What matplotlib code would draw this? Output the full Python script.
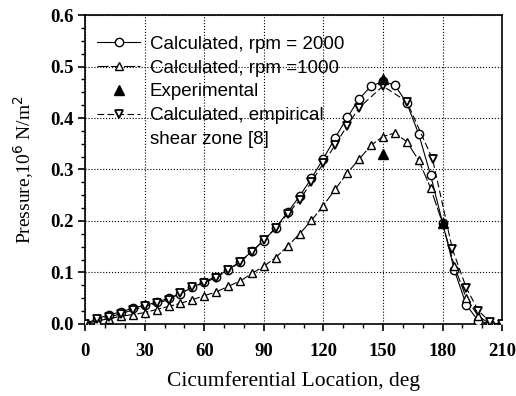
import numpy as np
import matplotlib.pyplot as plt
from matplotlib.ticker import MultipleLocator

# calculated, rpm = 2000
ang_2000 = np.arange(0, 211, 6)
p_2000 = [0.0, 0.01, 0.018, 0.023, 0.031, 0.036, 0.042, 0.05, 0.059, 0.071,
          0.082, 0.092, 0.105, 0.121, 0.141, 0.162, 0.187, 0.217, 0.248, 0.283,
          0.321, 0.362, 0.401, 0.437, 0.462, 0.471, 0.464, 0.429, 0.369, 0.289,
          0.197, 0.104, 0.037, 0.006, 0.0, 0.0]

# calculated, rpm = 1000
ang_1000 = np.arange(0, 211, 6)
p_1000 = [0.0, 0.006, 0.01, 0.015, 0.018, 0.022, 0.028, 0.034, 0.04, 0.047,
          0.055, 0.062, 0.073, 0.083, 0.098, 0.112, 0.129, 0.151, 0.175, 0.201,
          0.23, 0.262, 0.293, 0.32, 0.347, 0.364, 0.371, 0.354, 0.318, 0.264,
          0.196, 0.112, 0.05, 0.015, 0.0, 0.0]

# experimental
ang_exp = [150, 150, 180]
p_exp = [0.475, 0.33, 0.196]

# calculated, empirical shear zone [8]
ang_emp = [0, 6, 12, 18, 24, 30, 36, 42, 48, 54, 60, 66, 72, 78, 84, 90, 96,
           102, 108, 114, 120, 126, 132, 138, 150, 162, 175, 185, 192, 198,
           204, 210]
p_emp = [0.0, 0.009, 0.013, 0.02, 0.027, 0.034, 0.04, 0.047, 0.06, 0.071,
         0.08, 0.09, 0.104, 0.12, 0.14, 0.163, 0.186, 0.214, 0.24, 0.276,
         0.312, 0.348, 0.385, 0.42, 0.462, 0.432, 0.32, 0.145, 0.07, 0.026,
         0.004, 0.0]

plt.rcParams['font.family'] = ['Liberation Serif', 'DejaVu Serif']

fig = plt.figure(figsize=(5.16, 3.96), dpi=100)
ax = fig.add_axes([0.165, 0.182, 0.808, 0.78])

ax.plot(ang_2000, p_2000, '-', color='k', lw=0.8, marker='o', ms=6,
        mfc='white', mec='k', mew=1.0, label='Calculated, rpm = 2000', zorder=3)
ax.plot(ang_1000, p_1000, color='k', lw=0.8, ls=(0, (10, 2)), marker='^', ms=6,
        mfc='white', mec='k', mew=1.0, label='Calculated, rpm =1000', zorder=3)
ax.plot(ang_exp, p_exp, ls='none', marker='^', ms=6.5, color='k',
        label='Experimental', zorder=4)
ax.plot(ang_emp, p_emp, color='k', lw=0.8, ls=(0, (6, 3)), marker='v', ms=6,
        mfc='white', mec='k', mew=1.3,
        label='Calculated, empirical', zorder=3)
# second line of the last legend label, no handle
ax.plot([], [], ls='none', label='shear zone [8]')

ax.set_xlim(0, 210)
ax.set_ylim(0, 0.6)
ax.xaxis.set_major_locator(MultipleLocator(30))
ax.xaxis.set_minor_locator(MultipleLocator(10))
ax.yaxis.set_major_locator(MultipleLocator(0.1))
ax.yaxis.set_minor_locator(MultipleLocator(0.025))
ax.yaxis.set_major_formatter(plt.FormatStrFormatter('%.1f'))
ax.grid(True, which='major', ls=':', color='k', lw=0.8)
ax.tick_params(which='major', direction='out', length=5, width=1.2,
               labelsize=13.5)
ax.tick_params(axis='x', which='major', pad=9)
ax.tick_params(which='minor', direction='out', length=3, width=1)
for lab in ax.get_xticklabels() + ax.get_yticklabels():
    lab.set_fontweight('bold')
for s in ax.spines.values():
    s.set_linewidth(1.2)

ax.set_xlabel('Cicumferential Location, deg', fontsize=15.5, labelpad=8)
ax.set_ylabel('Pressure,10$^6$ N/m$^2$', fontsize=14, labelpad=10)

leg = ax.legend(loc='upper left', bbox_to_anchor=(0.011, 0.958), frameon=False,
                handlelength=2.3, borderaxespad=0,
                prop={'family': 'Liberation Sans', 'size': 13.5},
                labelspacing=0.36, handletextpad=0.5)

fig.savefig('out.png', dpi=100)
